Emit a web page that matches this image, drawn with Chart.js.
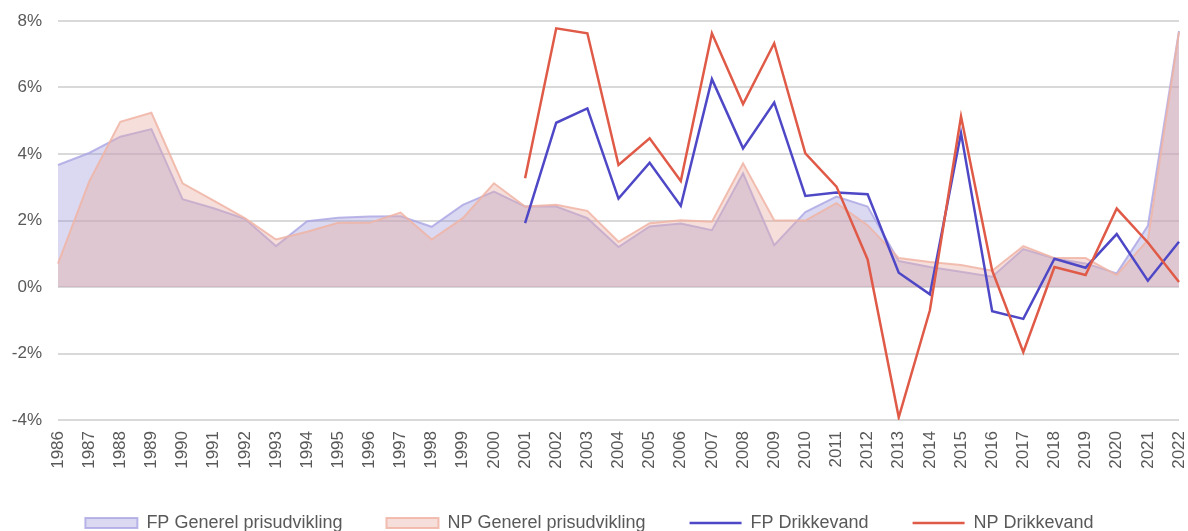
<!DOCTYPE html>
<html>
<head>
<meta charset="utf-8">
<script src="https://cdn.jsdelivr.net/npm/chart.js@4.4.1/dist/chart.umd.min.js"></script>
<style>
  html, body { margin: 0; padding: 0; background: #fff; }
  .chart-box { width: 1188px; height: 531px; position: relative; }
</style>
</head>
<body>
<div class="chart-box"><canvas id="chart"></canvas></div>
<script>
const years = ['1986', '1987', '1988', '1989', '1990', '1991', '1992', '1993', '1994', '1995',
  '1996', '1997', '1998', '1999', '2000', '2001', '2002', '2003', '2004', '2005', '2006',
  '2007', '2008', '2009', '2010', '2011', '2012', '2013', '2014', '2015', '2016', '2017',
  '2018', '2019', '2020', '2021', '2022'];

// general price development (%), 1986-2022
const fpGenerel = [3.67, 4.03, 4.52, 4.75, 2.64, 2.37, 2.05, 1.23, 1.98, 2.08, 2.12, 2.13,
  1.81, 2.47, 2.87, 2.42, 2.42, 2.07, 1.2, 1.82, 1.91, 1.71, 3.42, 1.26, 2.25, 2.72, 2.42,
  0.78, 0.6, 0.46, 0.31, 1.14, 0.86, 0.71, 0.41, 1.84, 7.7];
const npGenerel = [0.7, 3.17, 4.97, 5.24, 3.12, 2.6, 2.07, 1.43, 1.66, 1.93, 1.93, 2.24,
  1.43, 2.07, 3.12, 2.42, 2.47, 2.29, 1.36, 1.92, 2.01, 1.96, 3.72, 2.01, 2.0, 2.52, 1.86,
  0.87, 0.75, 0.66, 0.49, 1.23, 0.87, 0.87, 0.36, 1.41, 7.67];

// drinking water (%), only from 2001
const fpDrikkevand = [null, null, null, null, null, null, null, null, null, null, null, null,
  null, null, null, 1.92, 4.94, 5.37, 2.66, 3.74, 2.44, 6.25, 4.17, 5.55, 2.74, 2.84, 2.79,
  0.43, -0.22, 4.63, -0.73, -0.96, 0.85, 0.58, 1.59, 0.19, 1.36];
const npDrikkevand = [null, null, null, null, null, null, null, null, null, null, null, null,
  null, null, null, 3.27, 7.78, 7.63, 3.67, 4.47, 3.19, 7.63, 5.5, 7.33, 4.02, 3.02, 0.83,
  -3.92, -0.7, 5.13, 0.5, -1.96, 0.6, 0.36, 2.36, 1.34, 0.15];

const yTicks = [-4, -2, 0, 2, 4, 6, 8];

const textColor = '#595959';
const fontFamily = '"Liberation Sans", Arial, sans-serif';

const ctx = document.getElementById('chart').getContext('2d');

const chart = new Chart(ctx, {
  type: 'line',
  data: {
    labels: years,
    datasets: [
      {
        label: 'FP Generel prisudvikling',
        data: fpGenerel,
        fill: 'origin',
        backgroundColor: 'rgba(150, 146, 215, 0.35)',
        borderColor: 'rgba(170, 165, 228, 0.8)',
        borderWidth: 2,
        pointRadius: 0,
        pointStyle: 'rect',
        tension: 0,
        order: 4
      },
      {
        label: 'NP Generel prisudvikling',
        data: npGenerel,
        fill: 'origin',
        backgroundColor: 'rgba(232, 172, 160, 0.38)',
        borderColor: 'rgba(240, 180, 165, 0.85)',
        borderWidth: 2,
        pointRadius: 0,
        pointStyle: 'rect',
        tension: 0,
        order: 3
      },
      {
        label: 'FP Drikkevand',
        data: fpDrikkevand,
        fill: false,
        borderColor: '#4f48c6',
        backgroundColor: '#4f48c6',
        borderWidth: 2.5,
        pointRadius: 0,
        pointStyle: 'line',
        tension: 0,
        spanGaps: false,
        order: 2
      },
      {
        label: 'NP Drikkevand',
        data: npDrikkevand,
        fill: false,
        borderColor: '#e05a48',
        backgroundColor: '#e05a48',
        borderWidth: 2.5,
        pointRadius: 0,
        pointStyle: 'line',
        tension: 0,
        spanGaps: false,
        order: 1
      }
    ]
  },
  options: {
    responsive: true,
    maintainAspectRatio: false,
    animation: false,
    layout: {
      padding: { top: 21, right: 9, left: 0, bottom: 0 }
    },
    scales: {
      x: {
        grid: { display: false, drawTicks: false },
        border: { display: false },
        ticks: {
          color: textColor,
          font: { family: fontFamily, size: 17 },
          minRotation: 90,
          maxRotation: 90,
          autoSkip: false,
          padding: 11
        },
        afterFit: (scale) => {
          scale.height = 50;
          scale.paddingLeft = 0;
          scale.paddingRight = 0;
        }
      },
      y: {
        min: -4,
        max: 8,
        border: { display: false },
        grid: { color: '#d9d9d9', lineWidth: 2, drawTicks: false },
        afterBuildTicks: (scale) => { scale.ticks = yTicks.map(v => ({ value: v })); },
        afterFit: (scale) => {
          scale.width = 58;
          scale.paddingTop = 0;
          scale.paddingBottom = 0;
        },
        ticks: {
          color: textColor,
          font: { family: fontFamily, size: 17 },
          padding: 16,
          callback: (v) => v + '%'
        }
      }
    },
    plugins: {
      legend: {
        position: 'bottom',
        labels: {
          color: textColor,
          font: { family: fontFamily, size: 18 },
          usePointStyle: true,
          pointStyleWidth: 52,
          boxHeight: 10,
          padding: 44,
          sort: (a, b) => a.datasetIndex - b.datasetIndex
        }
      },
      tooltip: { enabled: false }
    }
  }
});

// the label padding is wide, so cap the legend height to keep it near the bottom
const legendFit = chart.legend.fit;
chart.legend.fit = function () {
  legendFit.call(this);
  this.height = 61;
};
chart.update();
</script>
</body>
</html>
